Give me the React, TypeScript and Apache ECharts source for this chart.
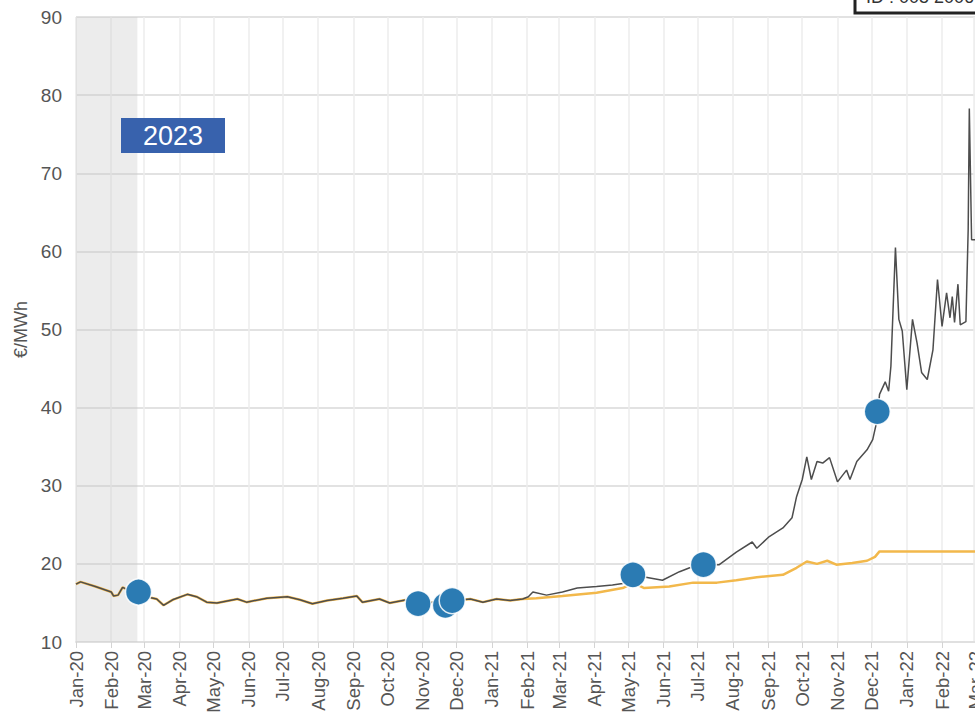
import React, { useEffect, useRef } from 'react';
import * as echarts from 'echarts';

const MONTHS = ['Jan', 'Feb', 'Mar', 'Apr', 'May', 'Jun', 'Jul', 'Aug', 'Sep', 'Oct', 'Nov', 'Dec'];

// Part where both curves coincide (2020 – Jan 2021)
const sharedDates = ['2020-01-01', '2020-01-05', '2020-01-18', '2020-02-01', '2020-02-03', '2020-02-07', '2020-02-11', '2020-02-17', '2020-02-22', '2020-02-25', '2020-03-06', '2020-03-12', '2020-03-18', '2020-03-26', '2020-04-08', '2020-04-16', '2020-04-25', '2020-05-04', '2020-05-22', '2020-05-30', '2020-06-17', '2020-07-05', '2020-07-16', '2020-07-27', '2020-08-09', '2020-08-23', '2020-09-04', '2020-09-09', '2020-09-24', '2020-10-03', '2020-10-18', '2020-10-29', '2020-11-16', '2020-11-30', '2020-12-13', '2020-12-24', '2021-01-05', '2021-01-17', '2021-01-28'];
const sharedValues = [17.4, 17.7, 17.1, 16.4, 15.9, 16.0, 17.0, 16.6, 17.3, 16.4, 15.7, 15.5, 14.7, 15.4, 16.1, 15.8, 15.1, 15.0, 15.5, 15.1, 15.6, 15.8, 15.4, 14.9, 15.3, 15.6, 15.9, 15.1, 15.5, 15.0, 15.4, 14.9, 15.2, 15.3, 15.5, 15.1, 15.5, 15.3, 15.5];

// Grey curve after divergence
const spotDates = ['2021-02-02', '2021-02-06', '2021-02-18', '2021-03-04', '2021-03-17', '2021-04-03', '2021-04-17', '2021-04-26', '2021-05-05', '2021-05-20', '2021-05-31', '2021-06-15', '2021-06-24', '2021-07-06', '2021-07-20', '2021-08-04', '2021-08-18', '2021-08-22', '2021-09-02', '2021-09-14', '2021-09-22', '2021-09-26', '2021-10-01', '2021-10-05', '2021-10-09', '2021-10-14', '2021-10-19', '2021-10-25', '2021-11-01', '2021-11-09', '2021-11-12', '2021-11-18', '2021-11-27', '2021-12-02', '2021-12-06', '2021-12-08', '2021-12-13', '2021-12-16', '2021-12-18', '2021-12-22', '2021-12-25', '2021-12-28', '2022-01-01', '2022-01-06', '2022-01-10', '2022-01-14', '2022-01-19', '2022-01-24', '2022-01-28', '2022-02-01', '2022-02-05', '2022-02-08', '2022-02-10', '2022-02-12', '2022-02-15', '2022-02-17', '2022-02-22', '2022-02-24', '2022-02-25', '2022-02-27', '2022-03-02'];
const spotValues = [15.8, 16.4, 16.0, 16.4, 16.9, 17.1, 17.3, 17.5, 18.6, 18.2, 17.9, 19.0, 19.5, 19.9, 19.9, 21.5, 22.8, 22.0, 23.5, 24.6, 25.9, 28.6, 30.8, 33.7, 30.8, 33.1, 32.9, 33.6, 30.5, 32.0, 30.8, 33.1, 34.6, 35.9, 38.5, 41.7, 43.3, 42.1, 45.3, 60.5, 51.3, 49.8, 42.3, 51.3, 48.3, 44.5, 43.6, 47.4, 56.4, 50.4, 54.7, 51.5, 54.2, 50.9, 55.8, 50.6, 51.0, 62.8, 78.3, 61.5, 61.5];

// Orange curve after divergence
const futuresDates = ['2021-02-09', '2021-03-04', '2021-04-03', '2021-04-26', '2021-05-02', '2021-05-05', '2021-05-15', '2021-06-06', '2021-06-27', '2021-07-18', '2021-08-04', '2021-08-22', '2021-09-14', '2021-09-26', '2021-10-05', '2021-10-14', '2021-10-23', '2021-10-31', '2021-11-14', '2021-11-27', '2021-12-04', '2021-12-08', '2022-03-02'];
const futuresValues = [15.6, 15.9, 16.3, 16.9, 17.3, 17.6, 16.9, 17.1, 17.6, 17.6, 17.9, 18.3, 18.6, 19.5, 20.3, 20.0, 20.4, 19.9, 20.1, 20.4, 20.9, 21.6, 21.6];

// Blue event markers
const eventDates = ['2020-02-25', '2020-10-28', '2020-11-21', '2020-11-27', '2021-05-05', '2021-07-06', '2021-12-06'];
const eventValues = [16.4, 14.9, 14.7, 15.3, 18.6, 19.9, 39.5];

const shadeStart = '2020-01-01';
const shadeEnd = '2020-02-24';
const xMin = '2020-01-01';
const xMax = '2022-03-02';
const yTicks = { min: 10, max: 90, interval: 10 };

const FONT = "'Liberation Sans', Arial, sans-serif";
const DAY = 24 * 3600 * 1000;

function pairs(d: string[], v: number[]) {
  return d.map((x, i) => [x, v[i]]);
}

export default function App() {
  const ref = useRef<HTMLDivElement>(null);
  useEffect(() => {
    const chart = echarts.init(ref.current!, null, { renderer: 'svg' });
    const spot = pairs(sharedDates, sharedValues).concat(pairs(spotDates, spotValues));
    const fut = pairs(sharedDates, sharedValues).concat(pairs(futuresDates, futuresValues));
    chart.setOption({
      animation: false,
      backgroundColor: '#ffffff',
      grid: { left: 76, right: 0, top: 17, bottom: 71, containLabel: false, outerBoundsMode: 'none' },
      xAxis: {
        type: 'time',
        min: xMin,
        max: xMax,
        splitNumber: 26,
        minInterval: 28 * DAY,
        maxInterval: 31 * DAY,
        axisLine: { show: true, lineStyle: { color: '#e0e0e0', width: 2 } },
        axisTick: { show: true, length: 6, lineStyle: { color: '#d4d4d4' } },
        splitLine: { show: true, lineStyle: { color: '#ececec', width: 1.5 } },
        axisLabel: {
          rotate: 90,
          fontSize: 18.5,
          color: '#555555',
          fontFamily: FONT,
          margin: 9,
          hideOverlap: false,
          showMinLabel: true,
          showMaxLabel: true,
          formatter: (v: number) => {
            const d = new Date(v);
            return MONTHS[d.getMonth()] + '-' + String(d.getFullYear()).slice(2);
          },
        },
      },
      yAxis: {
        type: 'value',
        min: yTicks.min,
        max: yTicks.max,
        interval: yTicks.interval,
        name: '€/MWh',
        nameLocation: 'middle',
        nameGap: 46,
        nameTextStyle: { fontSize: 18, color: '#555555', fontFamily: FONT },
        axisLine: { show: false },
        axisTick: { show: false },
        splitLine: { show: true, lineStyle: { color: '#e2e2e2', width: 2 } },
        axisLabel: { fontSize: 19, color: '#555555', fontFamily: FONT, margin: 14 },
      },
      series: [
        {
          type: 'line',
          data: fut,
          showSymbol: false,
          lineStyle: { color: '#f2b84b', width: 2.5 },
          z: 2,
          markArea: {
            silent: true,
            itemStyle: { color: 'rgba(200,200,200,0.35)' },
            data: [[{ xAxis: shadeStart }, { xAxis: shadeEnd }]],
          },
        },
        {
          type: 'line',
          data: spot,
          showSymbol: false,
          lineStyle: { color: '#4d4d4d', width: 1.5 },
          z: 3,
        },
        {
          type: 'scatter',
          data: pairs(eventDates, eventValues),
          symbolSize: 26,
          itemStyle: { color: '#2b7bb3', borderColor: 'rgba(255,255,255,0.85)', borderWidth: 1.5, opacity: 1 },
          z: 5,
        },
      ],
      graphic: [
        {
          type: 'rect',
          shape: { x: 121, y: 118, width: 104, height: 35 },
          style: { fill: '#3862ad' },
          z: 10,
        },
        {
          type: 'text',
          x: 173,
          y: 136,
          style: { text: '2023', fill: '#ffffff', font: `27px ${FONT}`, align: 'center', verticalAlign: 'middle' },
          z: 11,
        },
        {
          type: 'rect',
          shape: { x: 855, y: -20, width: 140, height: 33 },
          style: { fill: '#ffffff', stroke: '#222222', lineWidth: 3 },
          z: 10,
        },
        {
          type: 'text',
          x: 866,
          y: 6,
          style: { text: 'ID : 005 2006', fill: '#333333', font: `18px ${FONT}`, align: 'left', verticalAlign: 'bottom' },
          z: 11,
        },
      ],
    });
    return () => chart.dispose();
  }, []);
  return <div ref={ref} style={{ position: 'fixed', left: 0, top: 0, width: 975, height: 713 }} />;
}
